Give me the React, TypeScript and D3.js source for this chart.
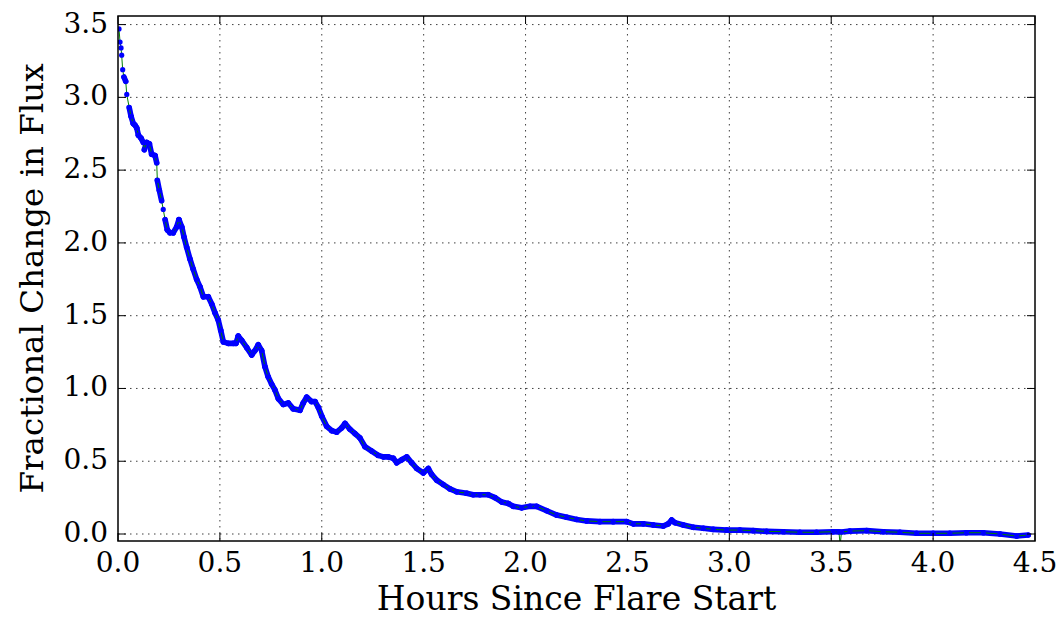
import React from "react";
import * as d3 from "d3";

// Flare light curve: hours since flare start vs fractional change in flux
const hours: number[] = [
  0.005, 0.010, 0.015, 0.018, 0.023, 0.029, 0.038, 0.043, 0.055, 0.064,
  0.075, 0.083, 0.092, 0.100, 0.113, 0.124, 0.129, 0.141, 0.154, 0.165,
  0.182, 0.190, 0.193, 0.203, 0.214, 0.222, 0.231, 0.242, 0.255, 0.271,
  0.288, 0.299, 0.313, 0.324, 0.337, 0.353, 0.369, 0.386, 0.402, 0.419,
  0.443, 0.460, 0.476, 0.492, 0.504, 0.517, 0.541, 0.566, 0.579, 0.590,
  0.607, 0.632, 0.656, 0.672, 0.688, 0.705, 0.721, 0.737, 0.754, 0.770,
  0.787, 0.811, 0.836, 0.860, 0.893, 0.909, 0.926, 0.950, 0.967, 0.983,
  1.000, 1.024, 1.049, 1.073, 1.098, 1.114, 1.138, 1.163, 1.187, 1.212,
  1.245, 1.277, 1.302, 1.326, 1.351, 1.368, 1.392, 1.417, 1.441, 1.466,
  1.498, 1.523, 1.539, 1.564, 1.596, 1.629, 1.662, 1.711, 1.743, 1.776,
  1.817, 1.850, 1.883, 1.915, 1.940, 1.981, 2.022, 2.054, 2.104, 2.153,
  2.202, 2.251, 2.300, 2.365, 2.430, 2.496, 2.529, 2.578, 2.627, 2.676,
  2.700, 2.717, 2.733, 2.774, 2.823, 2.872, 2.921, 2.987, 3.052, 3.117,
  3.183, 3.264, 3.346, 3.428, 3.510, 3.538, 3.544, 3.550, 3.592, 3.674,
  3.755, 3.837, 3.919, 4.000, 4.082, 4.164, 4.246, 4.328, 4.410, 4.467,
];

const flux: number[] = [
  3.47, 3.38, 3.34, 3.29, 3.19, 3.14, 3.11, 3.02, 2.93, 2.87,
  2.82, 2.81, 2.79, 2.74, 2.72, 2.69, 2.64, 2.69, 2.68, 2.61,
  2.60, 2.55, 2.43, 2.36, 2.29, 2.23, 2.16, 2.09, 2.07, 2.07,
  2.11, 2.16, 2.11, 2.04, 1.97, 1.89, 1.82, 1.75, 1.70, 1.63,
  1.63, 1.58, 1.52, 1.47, 1.40, 1.32, 1.31, 1.31, 1.31, 1.36,
  1.33, 1.28, 1.23, 1.26, 1.30, 1.26, 1.15, 1.08, 1.03, 0.99,
  0.93, 0.89, 0.90, 0.86, 0.85, 0.90, 0.94, 0.91, 0.91, 0.87,
  0.81, 0.74, 0.71, 0.70, 0.73, 0.76, 0.72, 0.69, 0.66, 0.60,
  0.57, 0.54, 0.53, 0.53, 0.52, 0.49, 0.51, 0.53, 0.49, 0.45,
  0.42, 0.45, 0.41, 0.37, 0.34, 0.31, 0.29, 0.28, 0.27, 0.27,
  0.27, 0.25, 0.22, 0.21, 0.19, 0.18, 0.19, 0.19, 0.16, 0.13,
  0.115, 0.10, 0.09, 0.085, 0.085, 0.085, 0.07, 0.07, 0.062, 0.055,
  0.07, 0.096, 0.078, 0.062, 0.046, 0.039, 0.032, 0.027, 0.027, 0.023,
  0.018, 0.016, 0.012, 0.012, 0.016, 0.015, -0.08, 0.014, 0.02, 0.023,
  0.016, 0.012, 0.005, 0.005, 0.005, 0.009, 0.009, 0.0, -0.014, -0.007,
];

const xTicks: number[] = [0, 0.5, 1, 1.5, 2, 2.5, 3, 3.5, 4, 4.5];
const yTicks: number[] = [0, 0.5, 1, 1.5, 2, 2.5, 3, 3.5];

const W = 1064;
const H = 617;
const left = 118;
const right = 1035;
const top = 16;
const bottom = 541;
const font = "'DejaVu Serif', serif";

export default function App() {
  const x = d3.scaleLinear().domain([0, 4.5]).range([left, right]);
  const y = d3.scaleLinear().domain([-0.048, 3.559]).range([bottom, top]);

  const pts = hours.map((h, i) => [x(h), y(flux[i])] as [number, number]);
  const line = d3.line<[number, number]>();

  // Gentle stretches of the densely sampled curve read as a solid marker band;
  // only the steep jumps leave the thin connecting line exposed.
  const band: [number, number][][] = [];
  for (let i = 1; i < pts.length; i++) {
    const [x0, y0] = pts[i - 1];
    const [x1, y1] = pts[i];
    if (Math.abs(y1 - y0) / Math.max(Math.abs(x1 - x0), 0.5) < 5) {
      band.push([pts[i - 1], pts[i]]);
    }
  }

  const tick = 8;

  return (
    <svg
      width={W}
      height={H}
      style={{ position: "absolute", left: 0, top: 0, background: "#fff" }}
    >
      <defs>
        <clipPath id="plot">
          <rect x={left} y={top} width={right - left} height={bottom - top} />
        </clipPath>
      </defs>

      {/* grid */}
      <g stroke="#000" strokeWidth={1} strokeDasharray="1.5 4.5" opacity={0.75}>
        {xTicks.filter((t) => t > 0 && t < 4.5).map((t) => (
          <line key={"gx" + t} x1={x(t)} x2={x(t)} y1={top} y2={bottom} />
        ))}
        {yTicks.map((t) => (
          <line key={"gy" + t} x1={left} x2={right} y1={y(t)} y2={y(t)} />
        ))}
      </g>

      {/* series */}
      <g clipPath="url(#plot)">
        {band.map((seg, i) => (
          <path
            key={"b" + i}
            d={line(seg) || ""}
            stroke="#0000ff"
            strokeWidth={5.6}
            strokeLinecap="round"
            fill="none"
          />
        ))}
        <path d={line(pts) || ""} stroke="#008000" strokeWidth={1} fill="none" />
        {pts.map(([px, py], i) => (
          <circle key={"p" + i} cx={px} cy={py} r={2.6} fill="#0000ff" />
        ))}
      </g>

      {/* ticks, inward on all sides */}
      <g stroke="#000" strokeWidth={1}>
        {xTicks.map((t) => (
          <g key={"tx" + t}>
            <line x1={x(t)} x2={x(t)} y1={bottom} y2={bottom - tick} />
            <line x1={x(t)} x2={x(t)} y1={top} y2={top + tick} />
          </g>
        ))}
        {yTicks.map((t) => (
          <g key={"ty" + t}>
            <line x1={left} x2={left + tick} y1={y(t)} y2={y(t)} />
            <line x1={right} x2={right - tick} y1={y(t)} y2={y(t)} />
          </g>
        ))}
      </g>

      {/* frame */}
      <rect
        x={left}
        y={top}
        width={right - left}
        height={bottom - top}
        fill="none"
        stroke="#000"
        strokeWidth={1.5}
      />

      {/* tick labels */}
      <g fontFamily={font} fontSize={28} fill="#000">
        {xTicks.map((t) => (
          <text key={"lx" + t} x={x(t)} y={572} textAnchor="middle">
            {d3.format(".1f")(t)}
          </text>
        ))}
        {yTicks.map((t) => (
          <text key={"ly" + t} x={108} y={y(t) + 8} textAnchor="end">
            {d3.format(".1f")(t)}
          </text>
        ))}
      </g>

      {/* axis titles */}
      <text
        x={(left + right) / 2}
        y={610}
        textAnchor="middle"
        fontFamily={font}
        fontSize={33}
        fill="#000"
      >
        Hours Since Flare Start
      </text>
      <text
        transform={`translate(43, ${(top + bottom) / 2}) rotate(-90)`}
        textAnchor="middle"
        fontFamily={font}
        fontSize={32.5}
        fill="#000"
      >
        Fractional Change in Flux
      </text>
    </svg>
  );
}
